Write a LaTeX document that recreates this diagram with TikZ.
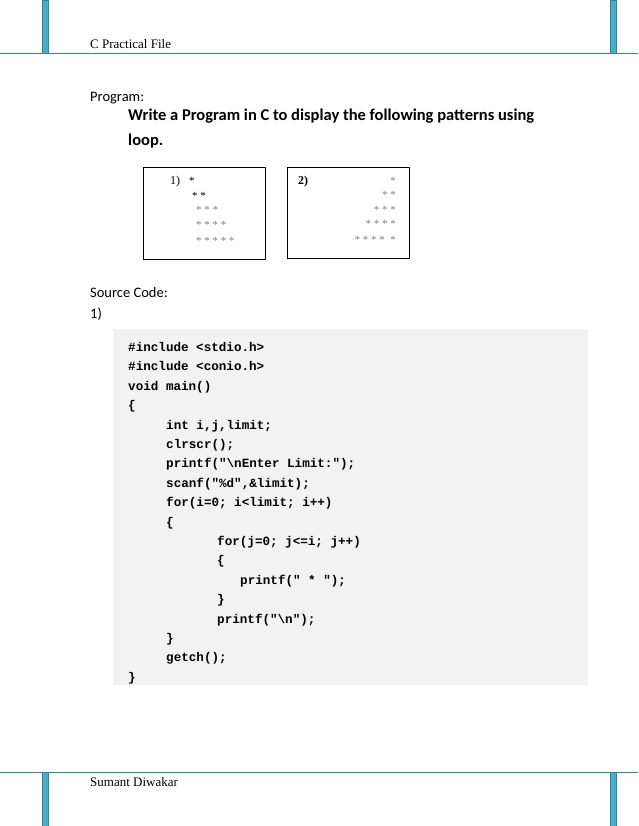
\documentclass[tikz,border=0pt]{standalone}
\usepackage{fontspec}
\setmainfont{Carlito}
\newfontfamily\headfont{Liberation Serif}
\newfontfamily\codefont{Liberation Mono}
\definecolor{barfill}{HTML}{4BACC6}
\definecolor{barline}{HTML}{31849B}
\begin{document}
\begin{tikzpicture}[x=1pt,y=-1pt,
  bar/.style={fill=barfill,draw=barline,line width=0.8pt},
  txt/.style={anchor=base west,inner sep=0pt,font=\fontsize{14.5}{17}\selectfont},
  code/.style={anchor=base west,inner sep=0pt,font=\codefont\bfseries\fontsize{12.6}{14}\selectfont},
  star/.style={anchor=base west,inner sep=0pt,font=\headfont\fontsize{11}{13}\selectfont}]
\useasboundingbox (0,0) rectangle (638,826);
% header and footer
\draw[barline,line width=0.8pt] (0,53) -- (638,53);
\draw[barline,line width=0.8pt] (0,772) -- (638,772);
\draw[bar] (42,0) rectangle (48,53);
\draw[bar] (610,0) rectangle (616,53);
\draw[bar] (42,772) rectangle (48,826);
\draw[bar] (610,772) rectangle (616,826);
\node (head) [txt,font=\headfont\fontsize{13}{15}\selectfont] at (90,49) {C Practical File};
\node (foot) [txt,font=\headfont\fontsize{13}{15}\selectfont] at (90,786) {Sumant Diwakar};
% task
\node (prog) [txt] at (90,102) {Program:};
\node (task1) [txt,font=\bfseries\fontsize{16.5}{19}\selectfont] at (128,121) {Write a Program in C to display the following patterns using};
\node (task2) [txt,font=\bfseries\fontsize{16.5}{19}\selectfont] at (128,146) {loop.};
% pattern boxes
\draw[line width=0.8pt] (143,167) rectangle (265,259);
\draw[line width=0.8pt] (287,167) rectangle (409,258);
\node (n1) [star,font=\headfont\fontsize{12}{14}\selectfont] at (170,185) {1)};
\node (a1) [star] at (189,185) {*};
\node (a2) [star] at (192,200) {* *};
\node (a3) [star,gray] at (196,214) {* * *};
\node (a4) [star,gray] at (196,229) {* * * *};
\node (a5) [star,gray] at (196,244) {* * * * *};
\node (n2) [star,font=\headfont\bfseries\fontsize{12}{14}\selectfont] at (298,185) {2)};
\node (b1) [star,gray,anchor=base east] at (396,185) {*};
\node (b2) [star,gray,anchor=base east] at (396,199) {* *};
\node (b3) [star,gray,anchor=base east] at (396,214) {* * *};
\node (b4) [star,gray,anchor=base east] at (396,228) {* * * *};
\node (b5) [star,gray,anchor=base east] at (396,243) {* * * *\ \ *};
% source code
\node (src) [txt] at (90,297) {Source Code:};
\node (one) [txt] at (90,318) {1)};
\fill[black!5] (113,329) rectangle (588,685);
\node (c1)  [code] at (128,351) {\#include <stdio.h>};
\node (c2)  [code] at (128,370) {\#include <conio.h>};
\node (c3)  [code] at (128,390) {void main()};
\node (c4)  [code] at (128,409) {\{};
\node (c5)  [code] at (166,429) {int i,j,limit;};
\node (c6)  [code] at (166,448) {clrscr();};
\node (c7)  [code] at (166,467) {printf("\textbackslash nEnter Limit:");};
\node (c8)  [code] at (166,487) {scanf("\%d",\&limit);};
\node (c9)  [code] at (166,506) {for(i=0; i<limit; i++)};
\node (c10) [code] at (166,526) {\{};
\node (c11) [code] at (217,545) {for(j=0; j<=i; j++)};
\node (c12) [code] at (217,564) {\{};
\node (c13) [code] at (240,584) {printf(" * ");};
\node (c14) [code] at (217,603) {\}};
\node (c15) [code] at (217,623) {printf("\textbackslash n");};
\node (c16) [code] at (166,642) {\}};
\node (c17) [code] at (166,661) {getch();};
\node (c18) [code] at (128,681) {\}};
\end{tikzpicture}
\end{document}
